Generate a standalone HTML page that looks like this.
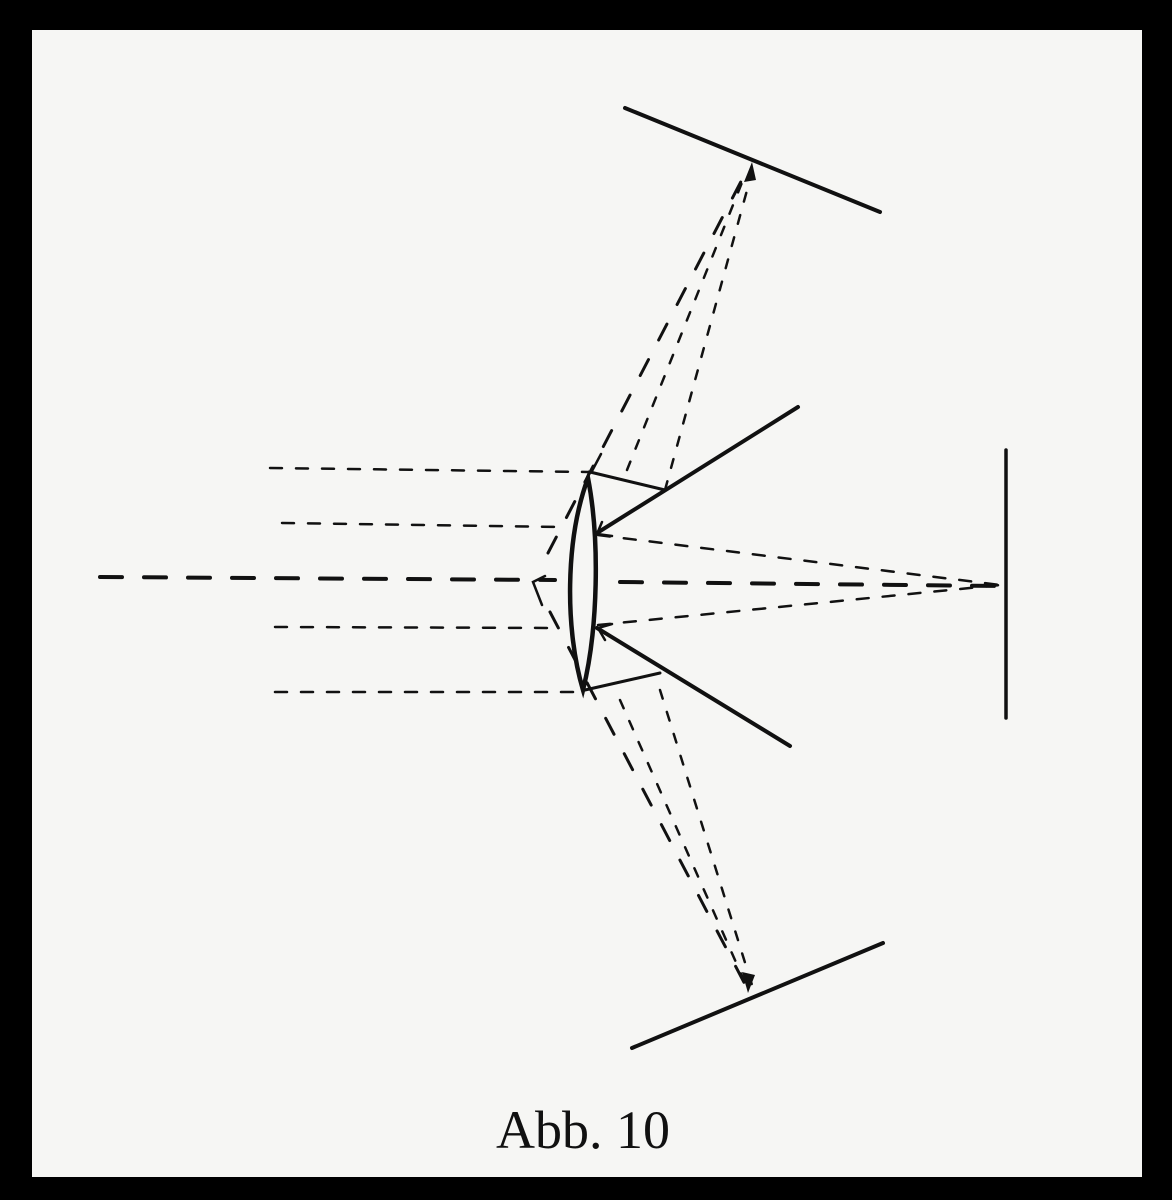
<!DOCTYPE html>
<html><head><meta charset="utf-8"><style>
html,body{margin:0;padding:0;background:#000;}
body{width:1172px;height:1200px;overflow:hidden;position:relative;}
svg{position:absolute;left:0;top:0}
</style></head><body>
<svg width="1172" height="1200" viewBox="0 0 1172 1200">
<rect x="0" y="0" width="1172" height="1200" fill="#000"/>
<rect x="32" y="30" width="1110" height="1147" fill="#f6f6f4"/>
<g stroke="#111" fill="none" stroke-linecap="round">
<line x1="625" y1="108" x2="880" y2="212" stroke-width="4"/>
<line x1="632" y1="1048" x2="883" y2="943" stroke-width="4"/>
<line x1="1006" y1="450" x2="1006" y2="718" stroke-width="3.5"/>
<line x1="597" y1="533" x2="798" y2="407" stroke-width="4"/>
<line x1="597" y1="628" x2="790" y2="746" stroke-width="4"/>
<polyline points="590,472 665,490" stroke-width="3"/>
<polyline points="585,690 660,673" stroke-width="3"/>
<polyline points="601,454 592,471" stroke-width="2.5"/>
<polyline points="602,522 597,534 612,536" stroke-width="2.5"/>
<polyline points="612,624 598,628 605,640" stroke-width="2.5"/>
<path d="M588,478 C565,540 565,630 583,690 C598,630 600,540 588,478 Z" stroke-width="4.5"/>
<g stroke-width="2.5" stroke-dasharray="12,14">
<line x1="270" y1="468" x2="588" y2="472"/>
<line x1="282" y1="523" x2="562" y2="527"/>
<line x1="275" y1="627" x2="560" y2="628"/>
<line x1="275" y1="692" x2="580" y2="692"/>
<line x1="598" y1="535" x2="1000" y2="585"/>
<line x1="598" y1="625" x2="1000" y2="585"/>
</g>
<line x1="100" y1="577" x2="555" y2="580" stroke-width="4" stroke-dasharray="22,22"/>
<line x1="620" y1="582" x2="1000" y2="586" stroke-width="4" stroke-dasharray="22,22"/>
<polyline points="545,576 533,582 542,605" stroke-width="2.5"/>
<line x1="548" y1="553" x2="748" y2="168" stroke-width="3" stroke-dasharray="18,22"/>
<line x1="627" y1="470" x2="745" y2="175" stroke-width="2.5" stroke-dasharray="9,14"/>
<line x1="665" y1="490" x2="752" y2="172" stroke-width="2.5" stroke-dasharray="9,14"/>
<line x1="550" y1="612" x2="748" y2="990" stroke-width="3" stroke-dasharray="18,22"/>
<line x1="620" y1="700" x2="746" y2="985" stroke-width="2.5" stroke-dasharray="9,14"/>
<line x1="660" y1="690" x2="752" y2="985" stroke-width="2.5" stroke-dasharray="9,14"/>
</g>
<polygon points="752,162 744,182 756,180" fill="#111"/>
<polygon points="748,993 742,972 755,975" fill="#111"/>
<text x="583" y="1148" text-anchor="middle" font-family="Liberation Serif, serif" font-size="54" fill="#111">Abb. 10</text>
</svg>
</body></html>
